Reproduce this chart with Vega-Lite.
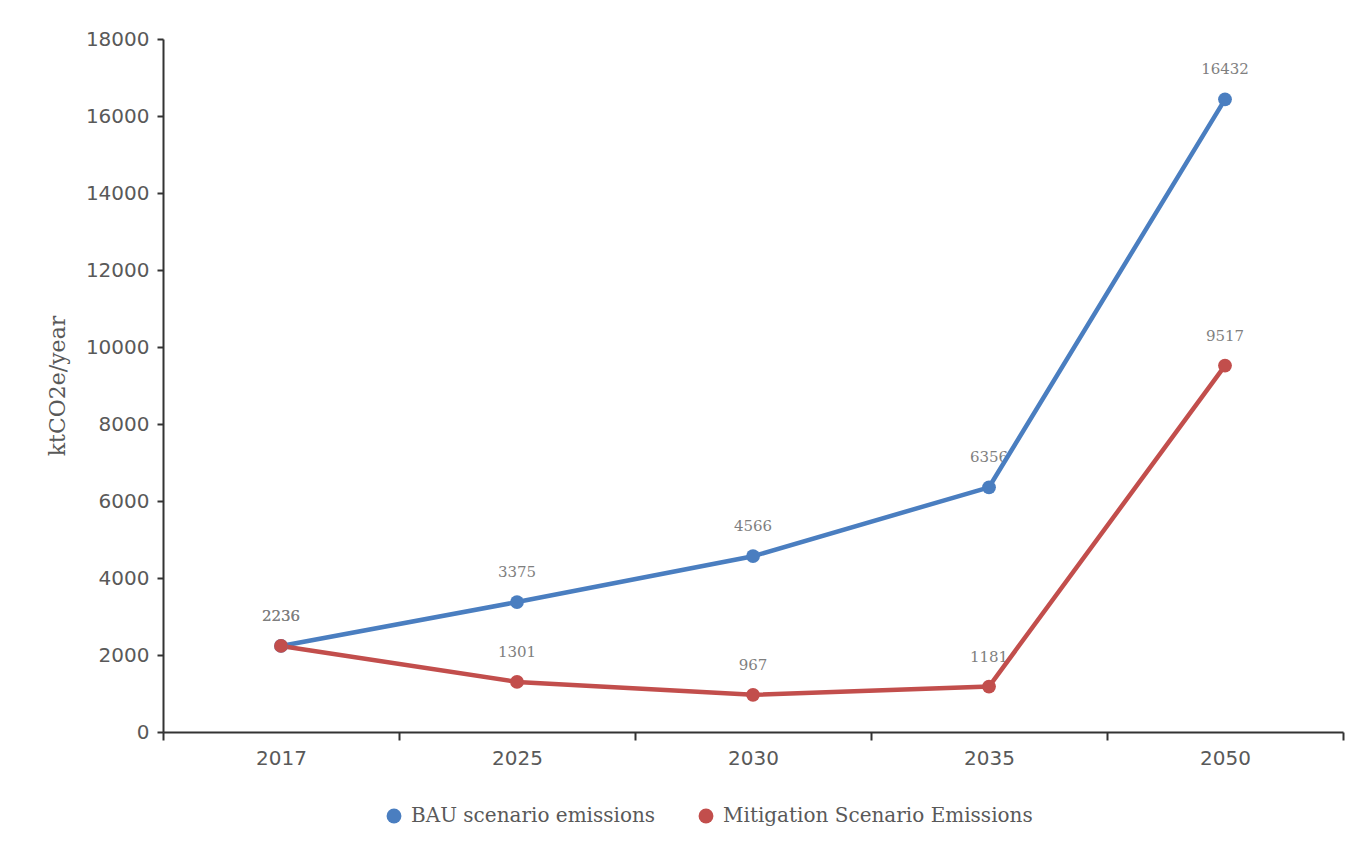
{
  "$schema": "https://vega.github.io/schema/vega-lite/v6.json",
  "width": 1180,
  "height": 693,
  "autosize": {"type": "none"},
  "padding": {"left": 163, "top": 39, "right": 14, "bottom": 111},
  "background": "white",
  "config": {
    "view": {"stroke": null},
    "axis": {"domainColor": "#333333", "domainWidth": 2, "tickColor": "#333333", "tickWidth": 2, "grid": false,
      "labelFont": "DejaVu Sans", "labelFontSize": 20, "labelColor": "#595959",
      "titleFont": "DejaVu Serif", "titleFontSize": 22, "titleFontWeight": "normal", "titleColor": "#595959"}
  },
  "data": {
    "values": [
      {"year": "2017", "series": "BAU scenario emissions", "value": 2236},
      {"year": "2025", "series": "BAU scenario emissions", "value": 3375},
      {"year": "2030", "series": "BAU scenario emissions", "value": 4566},
      {"year": "2035", "series": "BAU scenario emissions", "value": 6356},
      {"year": "2050", "series": "BAU scenario emissions", "value": 16432},
      {"year": "2017", "series": "Mitigation Scenario Emissions", "value": 2236},
      {"year": "2025", "series": "Mitigation Scenario Emissions", "value": 1301},
      {"year": "2030", "series": "Mitigation Scenario Emissions", "value": 967},
      {"year": "2035", "series": "Mitigation Scenario Emissions", "value": 1181},
      {"year": "2050", "series": "Mitigation Scenario Emissions", "value": 9517}
    ]
  },
  "encoding": {
    "x": {"field": "year", "type": "ordinal", "title": null,
      "scale": {"type": "band", "paddingInner": 0, "paddingOuter": 0},
      "axis": {"labelAngle": 0, "tickBand": "extent", "tickSize": 8, "labelPadding": 8}},
    "y": {"field": "value", "type": "quantitative", "title": "ktCO2e/year",
      "scale": {"domain": [0, 18000], "nice": false},
      "axis": {"values": [0, 2000, 4000, 6000, 8000, 10000, 12000, 14000, 16000, 18000], "format": "d", "tickSize": 6, "labelPadding": 8, "titlePadding": 16}}
  },
  "resolve": {"legend": {"color": "independent"}},
  "layer": [
    {
      "mark": {"type": "text", "dy": -30, "font": "DejaVu Serif", "fontSize": 15, "color": "#7f7f7f"},
      "encoding": {"text": {"field": "value", "type": "quantitative", "format": "d"}}
    },
    {
      "mark": {"type": "line", "strokeWidth": 4.5},
      "encoding": {"color": {"field": "series", "type": "nominal", "legend": null,
        "scale": {"domain": ["BAU scenario emissions", "Mitigation Scenario Emissions"], "range": ["#4A7EC0", "#C24E4C"]}}}
    },
    {
      "mark": {"type": "point", "filled": true, "shape": "circle", "size": 190, "opacity": 1},
      "encoding": {"color": {"field": "series", "type": "nominal",
        "legend": {"orient": "none", "legendX": 221, "legendY": 767, "direction": "horizontal", "title": null,
          "labelFont": "DejaVu Serif", "labelFontSize": 20, "labelColor": "#595959", "labelLimit": 600, "symbolSize": 220, "symbolType": "circle",
          "symbolOpacity": 1, "labelOffset": 7, "columnPadding": 40}}}
    }
  ]
}
